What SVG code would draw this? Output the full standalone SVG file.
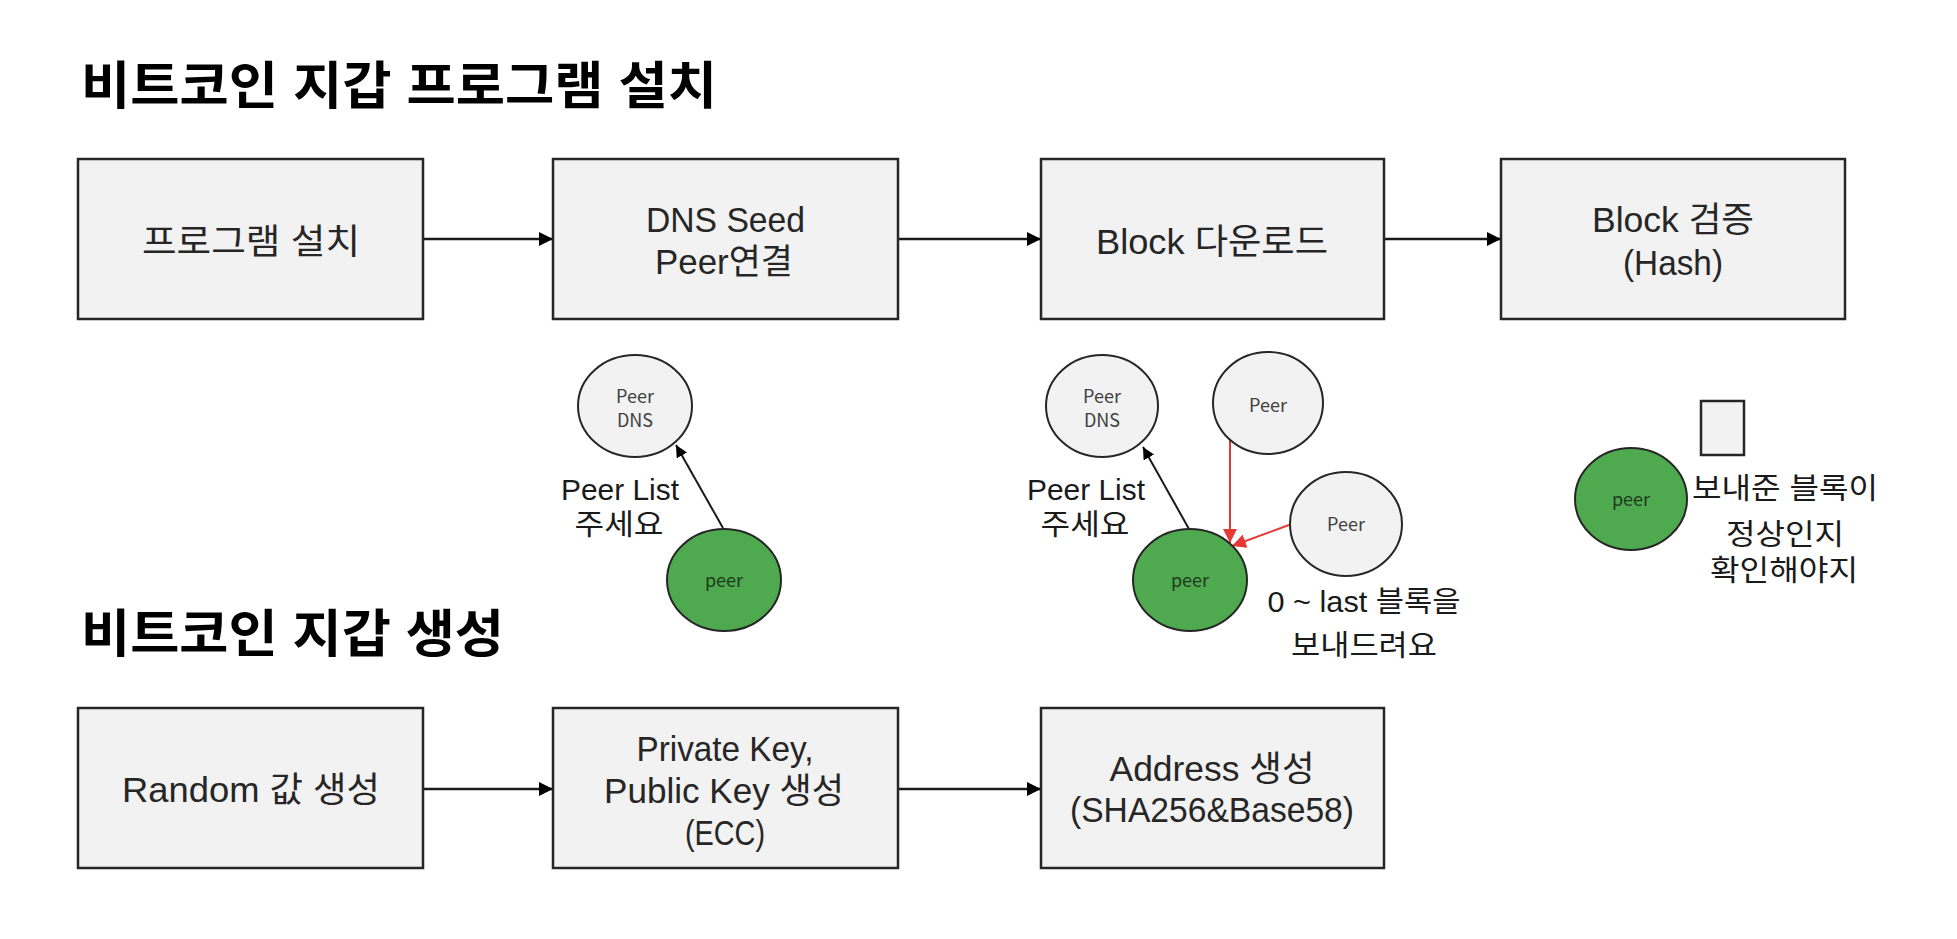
<svg xmlns="http://www.w3.org/2000/svg" width="1957" height="939" viewBox="0 0 1957 939">
<defs>
<style>
text{font-family:"Liberation Sans","Noto Sans CJK KR",sans-serif;text-anchor:middle}
.title{font-size:51px;font-weight:bold;fill:#000;text-anchor:start}
.box{fill:#f2f2f2;stroke:#262626;stroke-width:2.5}
.bt{font-size:35px;fill:#262626}
.circ{fill:#f2f2f2;stroke:#262626;stroke-width:2}
.green{fill:#4ea94f;stroke:#262626;stroke-width:2}
.ct{font-size:18px;fill:#404040;font-family:"Noto Sans CJK KR",sans-serif}
.gt{font-size:18px;fill:#1e3a1e;font-family:"Noto Sans CJK KR",sans-serif}
.lab{font-size:29px;fill:#1a1a1a}
.conn{stroke:#1a1a1a;stroke-width:2.5;fill:none}
.thin{stroke:#1a1a1a;stroke-width:2;fill:none}
.red{stroke:#e53935;stroke-width:2;fill:none}
</style>
<marker id="ah" markerUnits="userSpaceOnUse" markerWidth="14" markerHeight="14" refX="14" refY="7" orient="auto"><path d="M0,0 L14,7 L0,14 z" fill="#000"/></marker>
<marker id="ahs" markerUnits="userSpaceOnUse" markerWidth="12" markerHeight="12" refX="12" refY="6" orient="auto"><path d="M0,0 L12,6 L0,12 z" fill="#000"/></marker>
<marker id="ahr" markerUnits="userSpaceOnUse" markerWidth="14" markerHeight="14" refX="14" refY="7" orient="auto"><path d="M0,0 L14,7 L0,14 z" fill="#e53935"/></marker>
</defs>
<rect width="1957" height="939" fill="#fff"/>
<text class="title" x="81" y="104" textLength="636" lengthAdjust="spacingAndGlyphs">비트코인 지갑 프로그램 설치</text>
<text class="title" x="81" y="652" textLength="423" lengthAdjust="spacingAndGlyphs">비트코인 지갑 생성</text>

<g id="connectors">
<line class="conn" x1="423" y1="239" x2="553" y2="239" marker-end="url(#ah)"/>
<line class="conn" x1="898" y1="239" x2="1041" y2="239" marker-end="url(#ah)"/>
<line class="conn" x1="1384" y1="239" x2="1501" y2="239" marker-end="url(#ah)"/>
<line class="conn" x1="423" y1="789" x2="553" y2="789" marker-end="url(#ah)"/>
<line class="conn" x1="898" y1="789" x2="1041" y2="789" marker-end="url(#ah)"/>
<line class="thin" x1="723" y1="528" x2="676" y2="445" marker-end="url(#ahs)"/>
<line class="thin" x1="1189" y1="529" x2="1143" y2="447" marker-end="url(#ahs)"/>
<line class="red" x1="1230" y1="440" x2="1230" y2="543" marker-end="url(#ahr)"/>
<line class="red" x1="1289" y1="525" x2="1232" y2="546" marker-end="url(#ahr)"/>
</g>

<g id="n-install"><rect class="box" x="78" y="159" width="345" height="160"/><text class="bt" x="251" y="254" textLength="218" lengthAdjust="spacingAndGlyphs">프로그램 설치</text></g>
<g id="n-dns"><rect class="box" x="553" y="159" width="345" height="160"/><text class="bt" x="725.5" y="232" textLength="159" lengthAdjust="spacingAndGlyphs">DNS Seed</text><text class="bt" x="724" y="274" textLength="138" lengthAdjust="spacingAndGlyphs">Peer연결</text></g>
<g id="n-download"><rect class="box" x="1041" y="159" width="343" height="160"/><text class="bt" x="1212" y="254" textLength="232" lengthAdjust="spacingAndGlyphs">Block 다운로드</text></g>
<g id="n-verify"><rect class="box" x="1501" y="159" width="344" height="160"/><text class="bt" x="1673" y="232" textLength="162" lengthAdjust="spacingAndGlyphs">Block 검증</text><text class="bt" x="1673" y="275" textLength="100" lengthAdjust="spacingAndGlyphs">(Hash)</text></g>

<g id="n-peerdns1"><ellipse class="circ" cx="635" cy="406" rx="57" ry="51"/><text class="ct" x="635" y="403">Peer</text><text class="ct" x="635" y="427">DNS</text></g>
<g id="n-peer1"><ellipse class="green" cx="724" cy="580" rx="57" ry="51"/><text class="gt" x="724" y="587">peer</text></g>
<g id="l-peerlist1"><text class="lab" x="620" y="500" textLength="118" lengthAdjust="spacingAndGlyphs">Peer List</text><text class="lab" x="619" y="535" textLength="89" lengthAdjust="spacingAndGlyphs">주세요</text></g>

<g id="n-peerdns2"><ellipse class="circ" cx="1102" cy="406" rx="56" ry="51"/><text class="ct" x="1102" y="403">Peer</text><text class="ct" x="1102" y="427">DNS</text></g>
<g id="n-peertop"><ellipse class="circ" cx="1268" cy="403" rx="55" ry="51"/><text class="ct" x="1268" y="412">Peer</text></g>
<g id="n-peerright"><ellipse class="circ" cx="1346" cy="524" rx="56" ry="52"/><text class="ct" x="1346" y="531">Peer</text></g>
<g id="n-peer2"><ellipse class="green" cx="1190" cy="580" rx="57" ry="51"/><text class="gt" x="1190" y="587">peer</text></g>
<g id="l-peerlist2"><text class="lab" x="1086" y="500" textLength="118" lengthAdjust="spacingAndGlyphs">Peer List</text><text class="lab" x="1085" y="535" textLength="89" lengthAdjust="spacingAndGlyphs">주세요</text></g>
<g id="l-send"><text class="lab" x="1364" y="612" textLength="193" lengthAdjust="spacingAndGlyphs">0 ~ last 블록을</text><text class="lab" x="1364" y="656" textLength="146" lengthAdjust="spacingAndGlyphs">보내드려요</text></g>

<g id="n-block"><rect class="box" x="1701" y="401" width="43" height="54"/></g>
<g id="n-peer3"><ellipse class="green" cx="1631" cy="499" rx="56" ry="51"/><text class="gt" x="1631" y="506">peer</text></g>
<g id="l-check"><text class="lab" x="1785" y="499" textLength="186" lengthAdjust="spacingAndGlyphs">보내준 블록이</text><text class="lab" x="1785" y="545" textLength="118" lengthAdjust="spacingAndGlyphs">정상인지</text><text class="lab" x="1784" y="581" textLength="148" lengthAdjust="spacingAndGlyphs">확인해야지</text></g>

<g id="n-random"><rect class="box" x="78" y="708" width="345" height="160"/><text class="bt" x="251" y="802" textLength="258" lengthAdjust="spacingAndGlyphs">Random 값 생성</text></g>
<g id="n-keys"><rect class="box" x="553" y="708" width="345" height="160"/><text class="bt" x="725" y="761" textLength="177" lengthAdjust="spacingAndGlyphs">Private Key,</text><text class="bt" x="724" y="803" textLength="240" lengthAdjust="spacingAndGlyphs">Public Key 생성</text><text class="bt" x="725" y="845" textLength="80" lengthAdjust="spacingAndGlyphs">(ECC)</text></g>
<g id="n-address"><rect class="box" x="1041" y="708" width="343" height="160"/><text class="bt" x="1212" y="781" textLength="205" lengthAdjust="spacingAndGlyphs">Address 생성</text><text class="bt" x="1212" y="822" textLength="284" lengthAdjust="spacingAndGlyphs">(SHA256&amp;Base58)</text></g>
</svg>
